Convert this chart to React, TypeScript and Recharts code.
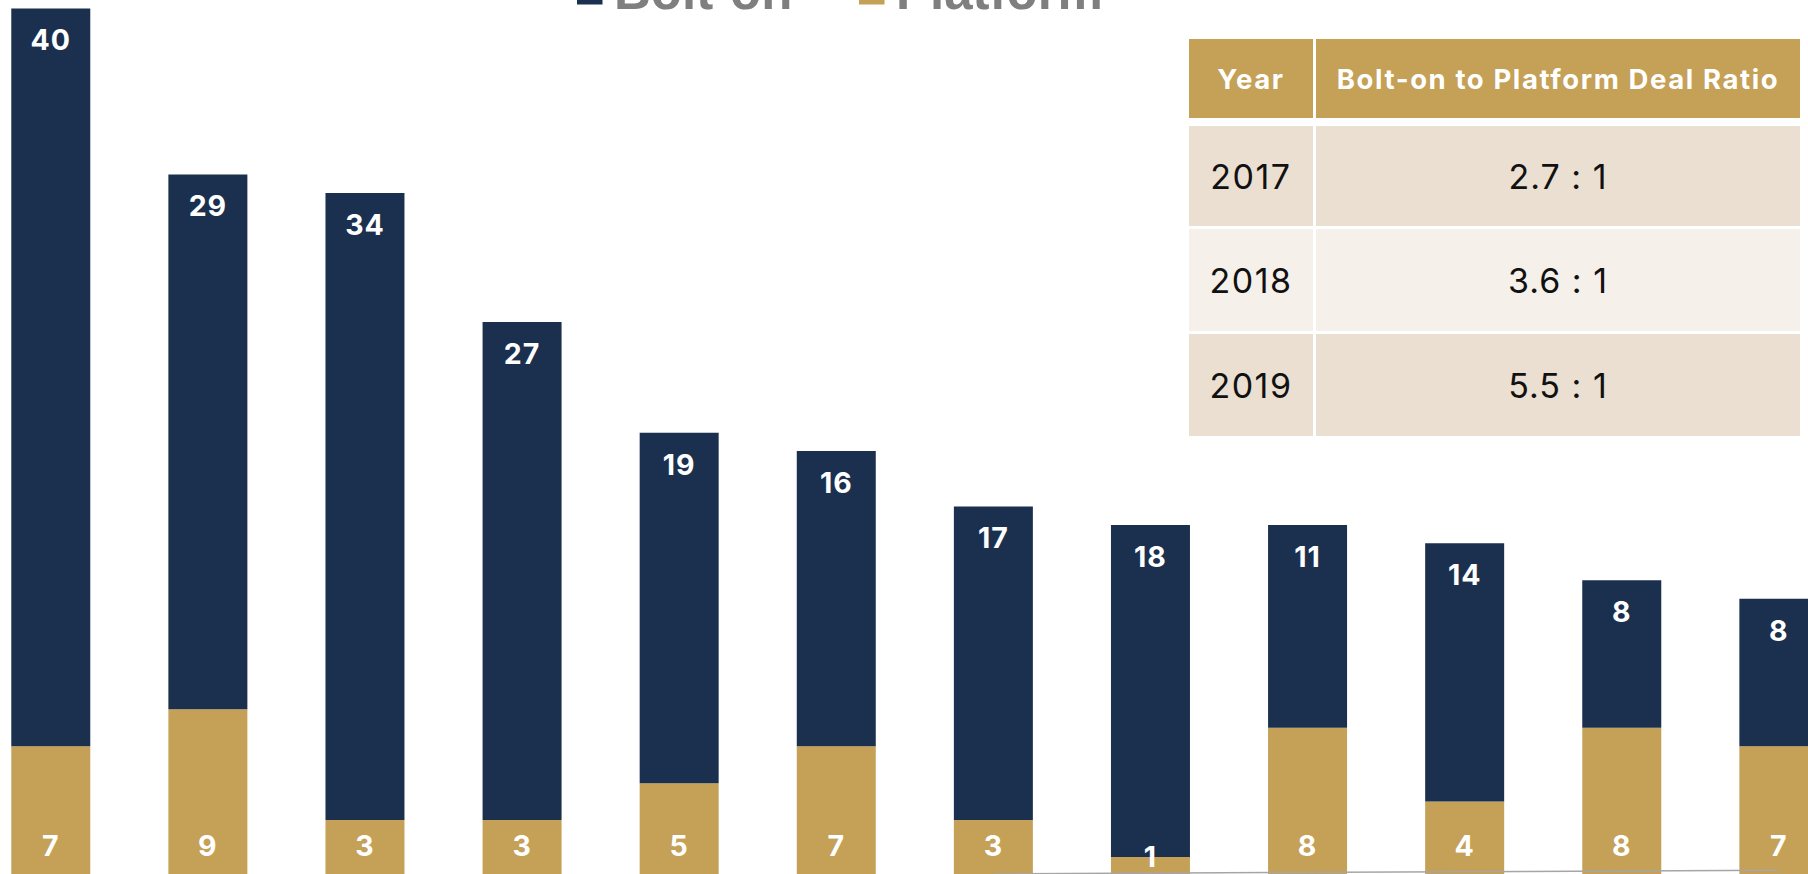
import React from 'react';
import { BarChart, Bar, XAxis, YAxis, Legend, LabelList, ReferenceLine } from 'recharts';

// ---- data ----
const quarters = ['Q1 2017', 'Q2 2017', 'Q3 2017', 'Q4 2017', 'Q1 2018', 'Q2 2018', 'Q3 2018', 'Q4 2018', 'Q1 2019', 'Q2 2019', 'Q3 2019', 'Q4 2019'];
const boltOn = [40, 29, 34, 27, 19, 16, 17, 18, 11, 14, 8, 8];
const platform = [7, 9, 3, 3, 5, 7, 3, 1, 8, 4, 8, 7];
const ratioYears = ['2017', '2018', '2019'];
const ratioValues = ['2.7 : 1', '3.6 : 1', '5.5 : 1'];
const tableHeaders = ['Year', 'Bolt-on to Platform Deal Ratio'];
const legendOrder = ['Bolt-on', 'Platform'];

const data = quarters.map((q, i) => ({ quarter: q, platform: platform[i], boltOn: boltOn[i] }));

// ---- layout / style ----
const NAVY = '#1B2F4E';
const GOLD = '#C5A057';
const ROW_A = '#EADFD1';
const ROW_B = '#F5F0EA';
const BAND = 157.1;
const CHART_LEFT = 51 - BAND / 2;
const CHART_W = BAND * quarters.length;
const PX_PER_UNIT = 18.445;
const Y_MAX = 48;
const CHART_H = Y_MAX * PX_PER_UNIT;
const BASELINE = 875.2;
const CHART_TOP = BASELINE - CHART_H;
const LEGEND_X = [577, 859];
const FONT = 'Inter, "Liberation Sans", sans-serif';

const renderLegend = (props: any) => {
  const items = [...(props.payload || [])].sort(
    (a: any, b: any) => legendOrder.indexOf(a.value) - legendOrder.indexOf(b.value)
  );
  return (
    <svg
      width={1808}
      height={40}
      style={{ position: 'absolute', left: -CHART_LEFT, top: -CHART_TOP, overflow: 'visible' }}
    >
      {items.map((p: any, i: number) => (
        <g key={p.value}>
          <rect x={LEGEND_X[i]} y={-20.5} width={25.5} height={25} fill={p.color} />
          <text
            x={LEGEND_X[i] + 37}
            y={9}
            fill="#7F7F7F"
            fontFamily='"Liberation Sans", Arial, sans-serif'
            fontWeight={700}
            fontSize={51}
          >
            {p.value}
          </text>
        </g>
      ))}
    </svg>
  );
};

const labelStyle = { fontFamily: FONT, fontWeight: 700, fontSize: 28.5, letterSpacing: 1 } as const;

const topLabel = (props: any) => {
  const { x, y, width, value } = props;
  return (
    <text x={x + width / 2} y={y + 42} textAnchor="middle" fill="#fff" {...labelStyle}>
      {value}
    </text>
  );
};

const bottomLabel = (props: any) => {
  const { x, y, width, height, value } = props;
  const by = Math.max(y + height - 19, y + 10);
  return (
    <text x={x + width / 2} y={by} textAnchor="middle" fill="#fff" {...labelStyle}>
      {value}
    </text>
  );
};

const cellBase: React.CSSProperties = {
  display: 'flex',
  alignItems: 'center',
  justifyContent: 'center',
  fontFamily: FONT,
};

export default function App() {
  return (
    <div style={{ position: 'absolute', left: 0, top: 0, width: 1808, height: 874, overflow: 'hidden', background: '#fff' }}>
      <div style={{ position: 'absolute', left: CHART_LEFT, top: CHART_TOP }}>
        <BarChart
          width={CHART_W}
          height={CHART_H}
          data={data}
          margin={{ top: 0, right: 0, bottom: 0, left: 0 }}
          barCategoryGap="25%"
        >
          <XAxis dataKey="quarter" hide />
          <YAxis hide domain={[0, Y_MAX]} />
          <Legend content={renderLegend} wrapperStyle={{ left: 0, top: 0, width: 0, height: 0 }} />
          <Bar dataKey="platform" name="Platform" stackId="a" fill={GOLD} isAnimationActive={false}>
            <LabelList dataKey="platform" content={bottomLabel} />
          </Bar>
          <Bar dataKey="boltOn" name="Bolt-on" stackId="a" fill={NAVY} isAnimationActive={false}>
            <LabelList dataKey="boltOn" content={topLabel} />
          </Bar>
          <ReferenceLine
            segment={[{ x: quarters[6], y: 0.08 }, { x: quarters[11], y: 0.28 }]}
            stroke="#A6A6A6"
            strokeWidth={1.5}
          />
        </BarChart>
      </div>
      <div
        style={{
          position: 'absolute',
          left: 1189,
          top: 39,
          display: 'grid',
          gridTemplateColumns: '124px 484px',
          gridTemplateRows: '84px 100px 102px 102px',
          columnGap: 3,
          rowGap: 3,
        }}
      >
        {tableHeaders.map((h) => (
          <div
            key={h}
            style={{ ...cellBase, background: GOLD, color: '#fff', fontWeight: 700, fontSize: 27.5, letterSpacing: 1.6, marginBottom: 5 }}
          >
            {h}
          </div>
        ))}
        {ratioYears.map((yr, i) => (
          <React.Fragment key={yr}>
            <div style={{ ...cellBase, background: i % 2 === 0 ? ROW_A : ROW_B, color: '#111', fontSize: 34, letterSpacing: 1.5 }}>{yr}</div>
            <div style={{ ...cellBase, background: i % 2 === 0 ? ROW_A : ROW_B, color: '#111', fontSize: 34, letterSpacing: 1 }}>{ratioValues[i]}</div>
          </React.Fragment>
        ))}
      </div>
    </div>
  );
}
